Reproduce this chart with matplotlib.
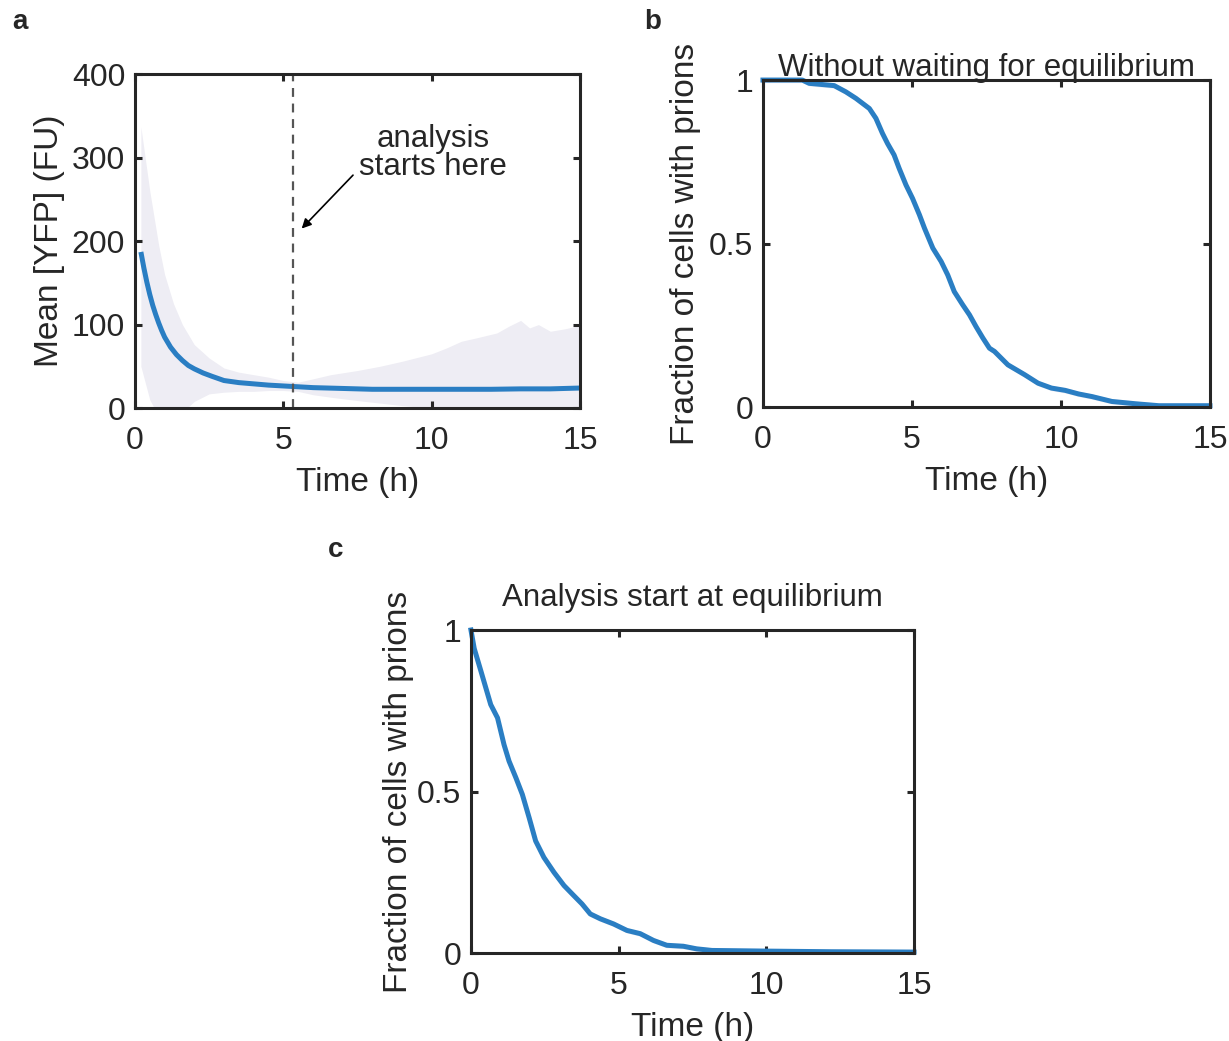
import matplotlib.pyplot as plt
import numpy as np

plt.rcParams['font.family'] = ['Liberation Sans', 'DejaVu Sans']
plt.rcParams['text.color'] = '#262626'
plt.rcParams['axes.labelcolor'] = '#262626'
plt.rcParams['xtick.color'] = '#262626'
plt.rcParams['ytick.color'] = '#262626'

# --- panel a: mean YFP over time with spread band ---
t_mean = [0.2, 0.3, 0.4, 0.5, 0.6, 0.7, 0.8, 0.9, 1.0, 1.2, 1.4, 1.6, 1.8,
          2.0, 2.3, 2.6, 3.0, 3.5, 4.0, 4.5, 5.0, 5.5, 6.0, 7.0, 8.0, 9.0,
          10.0, 11.0, 12.0, 13.0, 14.0, 15.0]
yfp_mean = [187, 168, 151, 136, 123, 112, 102, 93, 85, 73, 64, 57, 51,
            47, 42, 38, 33, 30.5, 29, 27.5, 26.5, 25.5, 24.5, 23.5, 22.5, 22.5,
            22.5, 22.5, 22.5, 23, 23, 24]

t_band = [0.2, 0.5, 0.8, 1.0, 1.3, 1.6, 2.0, 2.5, 3.0, 3.5, 4.0, 4.5, 5.0,
          5.5, 6.0, 6.6, 7.5, 8.25, 9.0, 10.0, 10.5, 11.0, 11.5, 12.2, 12.6,
          13.0, 13.3, 13.6, 14.0, 14.5, 15.0]
band_hi = [337, 260, 195, 160, 125, 100, 76, 60, 48, 43, 40, 37, 33,
           31, 35, 40, 45, 50, 56, 65, 72, 80, 84, 90, 98,
           105, 96, 100, 92, 95, 99]
band_lo = [50, 10, -10, -15, -12, -5, 8, 17, 19, 20, 20, 21, 21,
           20, 16, 13, 9, 6, 3, 0, -2, -3, -6, -8, -10,
           -12, -12, -12, -12, -14, -15]

start_time = 5.33

# --- panel b: fraction with prions, no equilibration ---
t_b = [0, 1.32, 1.55, 2.39, 2.78, 3.12, 3.57, 3.79, 4.01, 4.18, 4.4, 4.57,
       4.8, 5.02, 5.25, 5.42, 5.7, 5.98, 6.2, 6.42, 6.7, 6.93, 7.15, 7.38,
       7.6, 7.77, 8.22, 8.78, 9.23, 9.68, 10.14, 10.59, 11.04, 11.71, 12.5,
       13.29, 15.0]
frac_b = [1, 1, 0.99, 0.983, 0.964, 0.944, 0.913, 0.883, 0.837, 0.806,
          0.771, 0.73, 0.679, 0.638, 0.588, 0.547, 0.486, 0.445, 0.404,
          0.353, 0.313, 0.282, 0.246, 0.211, 0.18, 0.17, 0.129, 0.099,
          0.073, 0.058, 0.051, 0.04, 0.032, 0.017, 0.01, 0.004, 0.004]

# --- panel c: fraction with prions, analysis from equilibrium ---
t_c = [0, 0.11, 0.34, 0.67, 0.9, 1.12, 1.29, 1.52, 1.74, 1.97, 2.19, 2.47,
       2.81, 3.15, 3.48, 3.76, 4.04, 4.38, 4.83, 5.28, 5.73, 6.18, 6.63,
       7.19, 7.64, 8.16, 9.97, 12.23, 15.0]
frac_c = [1, 0.943, 0.872, 0.769, 0.728, 0.645, 0.594, 0.543, 0.491, 0.419,
          0.347, 0.296, 0.25, 0.209, 0.178, 0.152, 0.121, 0.106, 0.09, 0.07,
          0.06, 0.039, 0.024, 0.021, 0.013, 0.008, 0.006, 0.004, 0.003]

blue = '#2a7ec3'
band = '#eeedf4'
dark = '#262626'


def style_axes(ax):
    for s in ax.spines.values():
        s.set_linewidth(2.2)
        s.set_color(dark)
    ax.tick_params(direction='in', top=True, right=True, length=5,
                   width=2.2, labelsize=23)
    ax.tick_params(axis='x', pad=13)
    ax.tick_params(axis='y', pad=7)
    ax.set_xlim(0, 15)
    ax.set_xticks([0, 5, 10, 15])
    ax.set_xlabel('Time (h)', fontsize=24, labelpad=8)


fig = plt.figure(figsize=(12.29, 10.41), dpi=100)

# a
ax = fig.add_axes([0.1098, 0.608, 0.3621, 0.3208])
ax.fill_between(t_band, band_lo, band_hi, color=band, lw=0)
ax.plot(t_mean, yfp_mean, color=blue, lw=3.6, solid_capstyle='butt')
ax.axvline(start_time, color='#555555', lw=1.6, ls=(0, (4, 3)))
ax.text(10.05, 306, 'analysis\nstarts here', ha='center', va='center',
        fontsize=22.5, linespacing=0.92)
ax.annotate('', xy=(5.62, 215), xytext=(7.35, 279),
            arrowprops=dict(arrowstyle='-|>', color='black', lw=1.2,
                            mutation_scale=14, shrinkA=0, shrinkB=0))
ax.set_ylim(0, 400)
ax.set_yticks([0, 100, 200, 300, 400])
ax.set_ylabel('Mean [YFP] (FU)', fontsize=24, labelpad=5)
style_axes(ax)

# b
ax = fig.add_axes([0.6208, 0.609, 0.3637, 0.3141])
fb = np.array(frac_b)
ax.fill_between(t_b, fb - 0.008, fb + 0.008, color=band, lw=0)
ax.plot(t_b, frac_b, color=blue, lw=3.6, clip_on=False)
ax.set_ylim(0, 1)
ax.set_yticks([0, 0.5, 1])
ax.set_yticklabels(['0', '0.5', '1'])
ax.set_ylabel('Fraction of cells with prions', fontsize=24, labelpad=6)
ax.set_title('Without waiting for equilibrium', fontsize=22.5, pad=3)
style_axes(ax)

# c
ax = fig.add_axes([0.3832, 0.0845, 0.3605, 0.3103])
fc = np.array(frac_c)
ax.fill_between(t_c, fc - 0.008, fc + 0.008, color=band, lw=0)
ax.plot(t_c, frac_c, color=blue, lw=3.6, clip_on=False)
ax.set_ylim(0, 1)
ax.set_yticks([0, 0.5, 1])
ax.set_yticklabels(['0', '0.5', '1'])
ax.set_ylabel('Fraction of cells with prions', fontsize=24, labelpad=2)
ax.set_title('Analysis start at equilibrium', fontsize=22.5, pad=17)
style_axes(ax)

fig.text(0.0163, 0.979, 'a', fontsize=20, fontweight='bold',
         ha='center', va='center')
fig.text(0.531, 0.979, 'b', fontsize=20, fontweight='bold',
         ha='center', va='center')
fig.text(0.2734, 0.472, 'c', fontsize=20, fontweight='bold',
         ha='center', va='center')

fig.savefig('out.png', dpi=100)
